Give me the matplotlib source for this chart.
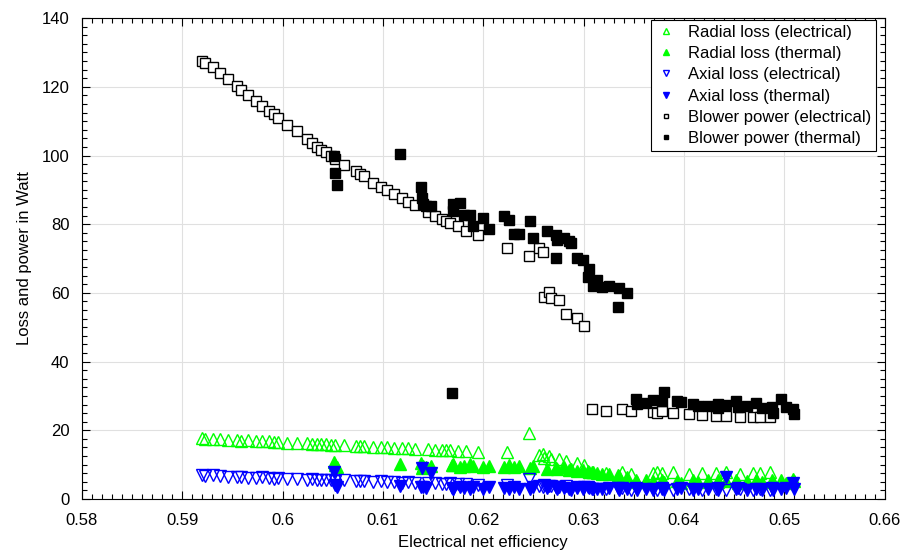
import numpy as np
import matplotlib
matplotlib.use('Agg')
import matplotlib.pyplot as plt
from matplotlib.ticker import MultipleLocator

# Operating points with electrical load
eta_el = [0.5920, 0.5923, 0.5931, 0.5938, 0.5946, 0.5955, 0.5959, 0.5966, 0.5973, 0.5979,
          0.5986, 0.5991, 0.5995, 0.6004, 0.6014, 0.6024, 0.6029, 0.6034, 0.6038, 0.6043,
          0.6048, 0.6052, 0.6061, 0.6073, 0.6077, 0.6081, 0.6090, 0.6098, 0.6104, 0.6111,
          0.6119, 0.6125, 0.6132, 0.6145, 0.6152, 0.6159, 0.6163, 0.6167, 0.6175, 0.6183,
          0.6195, 0.6224, 0.6246, 0.6256, 0.6259, 0.6260, 0.6265, 0.6267, 0.6275, 0.6282,
          0.6293, 0.6300, 0.6308, 0.6322, 0.6338, 0.6347, 0.6369, 0.6373, 0.6378, 0.6389,
          0.6405, 0.6418, 0.6432, 0.6442, 0.6456, 0.6469, 0.6476, 0.6486]
blower_el = [127.5, 127.0, 125.8, 124.1, 122.2, 120.2, 119.0, 117.6, 115.9, 114.4,
             112.9, 112.0, 110.8, 108.8, 107.0, 104.7, 103.7, 102.6, 101.7, 100.9,
             99.8, 99.0, 97.3, 95.4, 94.5, 94.0, 92.1, 90.9, 90.1, 88.8,
             87.5, 86.6, 85.6, 83.6, 82.5, 81.6, 81.0, 80.4, 79.5, 78.1,
             76.8, 73.0, 70.8, 73.0, 72.0, 58.9, 60.3, 58.4, 57.9, 54.0,
             52.8, 50.4, 26.1, 25.7, 26.1, 25.7, 25.4, 25.1, 25.6, 24.9,
             24.7, 24.4, 24.2, 24.2, 24.0, 24.0, 24.0, 24.0]
radial_el = [17.8, 17.6, 17.6, 17.4, 17.3, 17.2, 17.0, 17.1, 16.9, 16.8,
             16.8, 16.6, 16.7, 16.4, 16.4, 16.2, 16.1, 16.0, 16.0, 15.9,
             15.8, 15.8, 15.6, 15.5, 15.4, 15.4, 15.2, 15.1, 15.1, 14.9,
             14.8, 14.8, 14.6, 14.5, 14.4, 14.3, 14.3, 14.2, 14.1, 14.0,
             13.8, 13.6, 19.3, 12.8, 13.2, 11.8, 12.4, 11.5, 11.6, 11.0,
             10.4, 10.0, 7.8, 7.5, 7.8, 7.4, 7.6, 7.9, 7.5, 7.8,
             7.4, 7.7, 7.5, 7.8, 7.4, 7.7, 7.5, 7.8]
axial_el = [7.0, 6.6, 6.9, 6.6, 6.5, 6.3, 6.5, 6.2, 6.1, 6.3,
            6.0, 5.9, 6.1, 5.8, 5.9, 5.6, 5.7, 5.5, 5.6, 5.4,
            5.5, 5.3, 5.4, 5.2, 5.1, 5.3, 5.0, 5.1, 4.9, 5.0,
            4.8, 4.9, 4.7, 4.6, 4.7, 4.5, 4.4, 4.6, 4.3, 4.4,
            4.2, 4.1, 5.9, 3.9, 3.6, 4.0, 3.7, 3.9, 3.5, 3.8,
            3.6, 3.4, 3.0, 2.8, 3.1, 2.7, 2.9, 2.6, 3.0, 2.7,
            2.9, 2.6, 2.8, 2.5, 2.9, 2.6, 2.8, 2.7]

# Operating points with thermal load
eta_th = [0.6051, 0.6052, 0.6054, 0.6117, 0.6138, 0.6139, 0.6140, 0.6143, 0.6148, 0.6169,
          0.6170, 0.6177, 0.6170, 0.6181, 0.6187, 0.6190, 0.6200, 0.6206, 0.6221, 0.6226,
          0.6231, 0.6236, 0.6247, 0.6250, 0.6263, 0.6272, 0.6273, 0.6280, 0.6285, 0.6287,
          0.6272, 0.6293, 0.6299, 0.6305, 0.6304, 0.6313, 0.6309, 0.6318, 0.6325, 0.6335,
          0.6343, 0.6334, 0.6352, 0.6353, 0.6362, 0.6369, 0.6378, 0.6380, 0.6393, 0.6397,
          0.6409, 0.6414, 0.6424, 0.6434, 0.6434, 0.6442, 0.6452, 0.6454, 0.6463, 0.6472,
          0.6478, 0.6488, 0.6489, 0.6497, 0.6502, 0.6509, 0.6510]
blower_th = [100.0, 94.9, 91.5, 100.4, 90.8, 87.5, 85.9, 85.3, 85.4, 30.9,
             85.9, 86.2, 83.7, 82.6, 82.7, 79.5, 81.9, 78.5, 82.4, 81.2,
             77.1, 77.1, 80.8, 75.9, 78.1, 76.8, 75.4, 75.9, 75.2, 74.4,
             70.1, 70.3, 69.6, 66.9, 64.5, 63.9, 62.0, 61.6, 62.0, 61.5,
             60.0, 55.8, 29.0, 27.7, 28.0, 28.8, 28.6, 31.1, 28.5, 28.3,
             27.7, 27.2, 27.1, 27.7, 26.4, 27.4, 28.6, 26.7, 27.1, 27.9,
             26.4, 26.9, 24.9, 29.0, 26.9, 26.1, 24.7]
radial_th = [10.8, 10.0, 9.4, 10.2, 10.6, 8.9, 9.6, 9.4, 9.6, 9.9,
             10.2, 9.4, 9.8, 9.6, 10.1, 9.5, 9.2, 9.6, 9.4, 9.8,
             9.2, 9.5, 9.0, 9.6, 8.8, 9.0, 8.6, 9.2, 8.4, 8.8,
             8.9, 8.2, 8.5, 7.9, 8.2, 7.6, 7.8, 7.4, 7.2, 6.8,
             6.5, 6.9, 5.4, 5.0, 5.5, 5.1, 5.6, 4.9, 5.3, 4.8,
             5.6, 5.0, 5.4, 4.9, 5.5, 5.2, 5.6, 4.8, 5.3, 5.5,
             4.9, 5.4, 5.0, 5.5, 4.8, 5.8, 5.2]
axial_th = [7.9, 4.1, 3.5, 3.8, 3.6, 9.0, 3.4, 3.2, 7.6, 3.2,
            3.0, 3.6, 2.8, 3.3, 2.9, 3.4, 3.0, 3.6, 3.2, 2.9,
            3.5, 3.0, 2.8, 3.4, 3.1, 3.6, 2.9, 3.3, 3.0, 2.7,
            3.5, 3.1, 2.8, 3.2, 3.4, 2.9, 3.0, 2.8, 3.1, 2.7,
            3.0, 3.3, 3.2, 2.6, 3.0, 2.7, 3.1, 2.5, 2.9, 3.2,
            2.6, 3.0, 2.8, 3.1, 2.5, 6.3, 2.9, 3.2, 2.6, 3.0,
            2.7, 3.1, 2.6, 2.9, 3.2, 4.7, 2.8]

xtick_labels = ['0.58', '0.59', '0.6', '0.61', '0.62', '0.63', '0.64', '0.65', '0.66']

plt.rcParams['font.family'] = ['Liberation Sans', 'DejaVu Sans']

fig = plt.figure(figsize=(9, 5.54), dpi=100)
ax = fig.add_axes([0.091, 0.0993, 0.892, 0.868])

ms_tri = 9
ms_sq = 7
ax.plot(eta_el, radial_el, '^', color=(0, 1, 0), mfc='none', ms=ms_tri, mew=1.0,
        label='Radial loss (electrical)')
ax.plot(eta_th, radial_th, '^', color=(0, 1, 0), ms=ms_tri, mew=1.0,
        label='Radial loss (thermal)')
ax.plot(eta_el, axial_el, 'v', color=(0, 0, 1), mfc='none', ms=ms_tri, mew=1.0,
        label='Axial loss (electrical)')
ax.plot(eta_th, axial_th, 'v', color=(0, 0, 1), ms=ms_tri, mew=1.0,
        label='Axial loss (thermal)')
ax.plot(eta_el, blower_el, 's', color='k', mfc='white', ms=ms_sq, mew=1.0,
        label='Blower power (electrical)')
ax.plot(eta_th, blower_th, 's', color='k', ms=ms_sq, mew=1.0,
        label='Blower power (thermal)')

ax.set_xlim(0.58, 0.66)
ax.set_ylim(0, 140)
ax.set_xticks(np.arange(0.58, 0.6601, 0.01))
ax.set_xticklabels(xtick_labels)
ax.xaxis.set_minor_locator(MultipleLocator(0.001))
ax.yaxis.set_major_locator(MultipleLocator(20))
ax.yaxis.set_minor_locator(MultipleLocator(2.5))

ax.tick_params(which='both', direction='in', top=True, right=True, labelsize=12)
ax.tick_params(axis='x', which='major', pad=10)
ax.tick_params(axis='y', which='major', pad=9)
ax.tick_params(which='major', length=6, width=0.8)
ax.tick_params(which='minor', length=3.5, width=0.8)
ax.grid(True, which='major', color='#e0e0e0', linewidth=0.8)
ax.set_axisbelow(True)
for s in ax.spines.values():
    s.set_linewidth(0.8)

ax.set_xlabel('Electrical net efficiency', fontsize=12, labelpad=5)
ax.set_ylabel('Loss and power in Watt', fontsize=12, labelpad=7)

leg = ax.legend(loc='upper right', bbox_to_anchor=(0.989, 0.997), fontsize=12,
                markerscale=0.5, handlelength=1.2, handletextpad=0.7,
                labelspacing=0.38, borderpad=0.3, borderaxespad=0.0,
                fancybox=False, framealpha=1, edgecolor='k')
leg.get_frame().set_linewidth(0.8)

fig.savefig('out.png', dpi=100)
